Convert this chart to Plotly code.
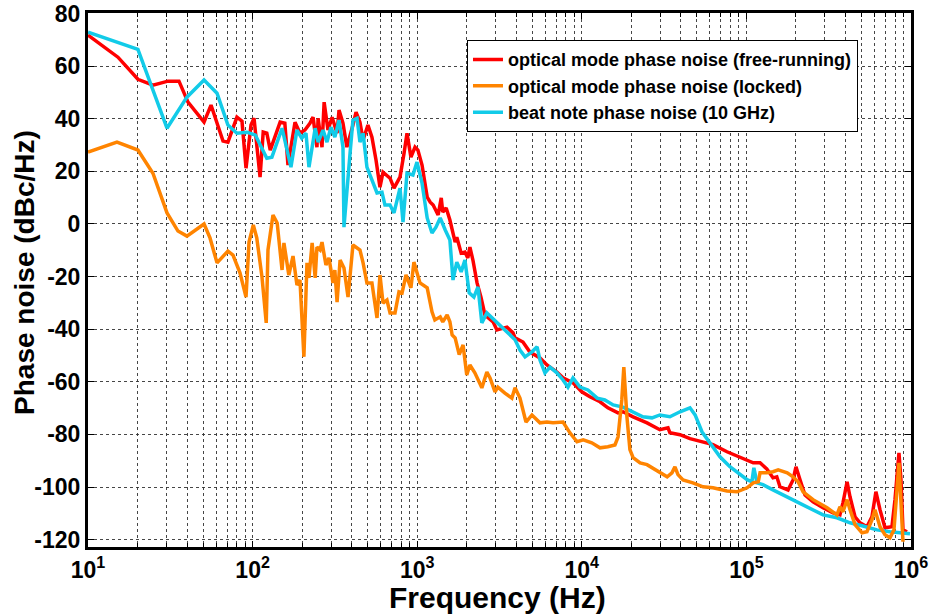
import plotly.graph_objects as go

# ---- data ----
free_f = [10, 15.2, 20.1, 24.8, 30.6, 35.7, 40.5, 50.7, 55.9, 66.1, 70.8, 80.3, 86.2, 91.2, 97.8,
          102, 111, 116, 122, 128, 147, 157, 164, 181, 194, 208, 223, 233, 246, 250, 264, 272,
          287, 304, 326, 335, 354, 374, 407, 425, 449, 469, 502, 531, 562, 594, 620, 684, 723,
          786, 832, 867, 916, 970, 1010, 1070, 1150, 1200, 1250, 1340, 1400, 1430, 1500, 1580,
          1700, 1740, 1850, 1950, 2030, 2090, 2180, 2310, 2440, 2580, 2890, 3050, 3510, 3820,
          3930, 4390, 4840, 5570, 6140, 7060, 7690, 8840, 10000, 11200, 12900, 14400, 16600,
          17800, 20500, 24900, 29800, 33400, 34300, 39500, 45400, 54500, 62700, 76200, 87700,
          101000, 110000, 121000, 133000, 145000, 153000, 160000, 179000, 192000, 200000,
          212000, 227000, 254000, 292000, 336000, 370000, 386000, 409000, 426000, 457000,
          490000, 540000, 579000, 612000, 648000, 695000, 766000, 799000, 845000, 869000,
          894000, 946000]
free_db = [71.8, 63.4, 55.0, 52.8, 54.3, 54.3, 46.3, 38.7, 45.2, 31.5, 31.1, 40.6, 39.1, 21.2, 37.6,
           40.2, 17.8, 34.9, 34.5, 28.1, 38.7, 38.3, 22.4, 38.7, 34.5, 35.7, 38.3, 40.6, 29.2, 40.2,
           29.2, 46.3, 35.7, 40.6, 34.5, 43.3, 38.3, 29.2, 37.6, 42.5, 38.7, 31.9, 37.6, 33.0, 24.3,
           14.0, 19.7, 17.4, 13.6, 17.8, 26.9, 34.5, 25.4, 29.2, 28.1, 22.4, 10.2, 8.3, 7.2, 3.4,
           9.9, 4.5, 6.1, 1.5, -6.9, -5.0, -11.1, -10.7, -12.9, -8.8, -13.7, -22.4, -27.8, -34.6,
           -37.2, -40.3, -39.2, -41.4, -43.3, -44.9, -48.7, -50.9, -53.6, -56.3, -58.5, -60.4,
           -63.8, -65.7, -67.6, -69.9, -71.8, -71.4, -73.3, -75.6, -78.2, -77.5, -79.4, -80.1,
           -81.6, -82.8, -83.9, -86.6, -88.1, -89.6, -90.8, -90.8, -93.1, -96.5, -96.1, -99.9,
           -101.1, -97.3, -92.3, -97.3, -103.0, -105.6, -107.9, -109.8, -110.6, -106.0, -98.0,
           -103.7, -111.3, -113.6, -115.1, -111.3, -101.8, -108.6, -115.5, -115.1, -104.9, -87.0,
           -97.3, -116.3, -117.0]

lock_f = [10, 15.0, 20.1, 24.8, 30.2, 35.2, 39.9, 50.7, 55.1, 60.8, 70.8, 76.0, 83.8, 91.2, 95.1,
          101, 106, 114, 121, 124, 133, 141, 151, 155, 166, 176, 186, 194, 205, 214, 220, 230,
          240, 246, 257, 264, 279, 291, 308, 316, 326, 340, 359, 380, 407, 449, 469, 495, 531,
          570, 594, 620, 655, 684, 733, 775, 809, 855, 916, 955, 1040, 1150, 1230, 1280, 1380,
          1430, 1520, 1580, 1630, 1700, 1800, 1900, 2000, 2090, 2240, 2470, 2650, 2770, 2970,
          3090, 3410, 3760, 3930, 4210, 4580, 4980, 5570, 6140, 6680, 7690, 8470, 9350, 10200,
          11500, 12900, 14400, 15900, 16600, 17500, 18000, 18800, 19600, 20500, 22600, 24900,
          26700, 29800, 33000, 35300, 36800, 38400, 41200, 47300, 54500, 62700, 76200, 87700,
          101000, 110000, 118000, 121000, 133000, 145000, 156000, 177000, 192000, 206000,
          221000, 254000, 309000, 355000, 370000, 386000, 409000, 426000, 457000, 504000,
          540000, 579000, 604000, 648000, 695000, 745000, 788000, 845000, 869000, 894000]
lock_db = [27.3, 31.1, 28.1, 19.3, 4.2, -2.7, -4.6, 0.0, -5.3, -14.8, -10.3, -11.8, -18.6, -27.8,
           -6.9, -0.4, -5.3, -20.1, -37.6, -9.9, 3.4, 0.4, -17.5, -7.2, -19.4, -12.2, -23.2, -21.3,
           -50.5, -14.8, -20.5, -7.2, -20.5, -8.8, -9.9, -6.9, -15.6, -12.9, -22.4, -17.5, -29.7,
           -13.7, -16.7, -27.8, -8.0, -9.9, -14.8, -22.4, -22.4, -35.7, -19.4, -30.1, -28.9,
           -33.8, -33.8, -25.8, -26.2, -19.4, -24.3, -14.5, -22.4, -24.3, -33.4, -36.5, -35.3,
           -37.2, -34.6, -37.2, -42.2, -43.3, -49.7, -46.0, -57.4, -53.6, -56.6, -62.3, -56.3,
           -58.5, -63.8, -62.0, -64.3, -66.2, -62.3, -66.2, -75.3, -72.6, -75.6, -75.3, -75.6,
           -75.3, -79.4, -82.8, -82.1, -83.2, -85.1, -84.7, -84.0, -81.0, -66.9, -54.4, -73.3,
           -85.8, -88.8, -90.8, -91.5, -92.7, -94.6, -96.1, -94.6, -92.3, -95.3, -97.3, -98.4,
           -99.9, -100.3, -101.5, -101.8, -100.3, -98.4, -98.0, -94.6, -94.6, -94.2, -93.5,
           -94.6, -96.1, -98.0, -101.8, -104.8, -107.9, -110.6, -107.5, -109.4, -104.8, -108.6,
           -114.3, -117.4, -117.0, -112.5, -108.6, -115.1, -118.1, -119.3, -116.3, -90.8, -106.0,
           -120.8]

beat_f = [10, 20.1, 30.2, 39.9, 50.7, 60.8, 70.8, 80.3, 92.5, 104, 122, 131, 151, 162, 171, 186,
          199, 211, 220, 240, 250, 268, 283, 299, 316, 335, 354, 359, 380, 391, 407, 431, 449,
          469, 495, 531, 570, 611, 637, 684, 723, 786, 820, 867, 942, 997, 1070, 1150, 1230,
          1300, 1380, 1480, 1580, 1650, 1740, 1850, 1950, 2070, 2210, 2340, 2470, 2650, 3050,
          3510, 3930, 4210, 4520, 4980, 5350, 5570, 5970, 6410, 7060, 7690, 8240, 8840, 9750,
          10900, 12400, 13800, 15500, 17800, 20500, 23500, 26700, 29800, 34300, 39500, 45400,
          48800, 53700, 60100, 69100, 79400, 91400, 101000, 108000, 111000, 116000, 126000,
          145000, 167000, 203000, 243000, 292000, 355000, 426000, 511000, 621000, 745000,
          986000]
beat_db = [72.9, 66.4, 36.4, 48.2, 54.7, 49.7, 37.6, 34.5, 34.9, 33.8, 25.0, 25.4, 36.4, 28.1,
           21.6, 35.7, 32.6, 34.5, 21.6, 36.4, 31.1, 35.7, 31.1, 36.8, 33.0, 39.5, 29.2, -1.2,
           20.5, 26.9, 39.5, 40.2, 31.1, 34.5, 21.6, 16.7, 11.8, 12.1, 7.2, 7.2, 4.2, 13.6, 0.7,
           19.3, 18.6, 23.5, 15.5, 2.3, -3.4, -1.2, 2.3, -2.3, -6.1, -21.3, -14.5, -18.2, -13.7,
           -26.2, -27.8, -23.9, -37.6, -33.8, -37.6, -41.4, -44.0, -47.9, -50.5, -48.6, -46.7,
           -51.7, -56.6, -54.4, -56.6, -59.3, -62.0, -58.5, -62.0, -63.1, -66.2, -66.9, -68.8,
           -69.6, -71.4, -73.3, -73.7, -72.6, -73.3, -71.4, -69.9, -72.6, -79.0, -83.2, -88.5,
           -92.3, -95.3, -97.2, -98.0, -92.7, -98.4, -99.1, -101.1, -103.0, -105.6, -107.9,
           -110.6, -111.7, -113.6, -114.8, -116.3, -117.0, -117.8]

names = ["optical mode phase noise (free-running)",
         "optical mode phase noise (locked)",
         "beat note phase noise (10 GHz)"]

x_title = "Frequency (Hz)"
y_title = "Phase noise (dBc/Hz)"
x_tickvals = [10, 100, 1000, 10000, 100000, 1000000]
x_ticktext = ["10<sup>1</sup>", "10<sup>2</sup>", "10<sup>3</sup>", "10<sup>4</sup>",
              "10<sup>5</sup>", "10<sup>6</sup>"]
x_minor = [m * 10 ** d for d in range(1, 6) for m in range(2, 10)]
y_tickvals = [80, 60, 40, 20, 0, -20, -40, -60, -80, -100, -120]
y_ticktext = ["80", "60", "40", "20", "0", "-20", "-40", "-60", "-80", "-100", "-120"]

RED = "#FF0000"
ORANGE = "#FF8400"
CYAN = "#12CBE8"

fig = go.Figure()
fig.add_trace(go.Scatter(x=free_f, y=free_db, mode="lines", name=names[0],
                         line=dict(color=RED, width=3.5), legendrank=1))
fig.add_trace(go.Scatter(x=beat_f, y=beat_db, mode="lines", name=names[2],
                         line=dict(color=CYAN, width=3.5), legendrank=3))
fig.add_trace(go.Scatter(x=lock_f, y=lock_db, mode="lines", name=names[1],
                         line=dict(color=ORANGE, width=3.5), legendrank=2))

FONT = "Liberation Sans, Arial, sans-serif"
gridc = "rgba(50,50,50,0.9)"

fig.update_layout(
    template="none",
    width=933, height=616, autosize=False,
    margin=dict(l=88, r=22, t=13, b=69, autoexpand=False),
    paper_bgcolor="white", plot_bgcolor="white",
    font=dict(family=FONT, color="black"),
    showlegend=True,
    legend=dict(x=0.4605, y=0.949, xanchor="left", yanchor="top",
                bgcolor="white", bordercolor="black", borderwidth=1,
                font=dict(family=FONT, size=18, weight="bold", color="black"),
                tracegroupgap=0, itemwidth=30),
    xaxis=dict(type="log", range=[1, 6], automargin=False,
               tickmode="array", tickvals=x_tickvals, ticktext=x_ticktext,
               tickfont=dict(family=FONT, size=23, weight="bold"),
               ticks="inside", ticklen=6, tickcolor="black", tickwidth=1,
               showline=True, linecolor="black", linewidth=3, mirror="ticks",
               showgrid=True, gridcolor=gridc, griddash="dot", gridwidth=1,
               minor=dict(tickmode="array", tickvals=x_minor, showgrid=True,
                          gridcolor=gridc, griddash="dot", gridwidth=1,
                          ticks="inside", ticklen=4, tickcolor="black"),
               zeroline=False),
    yaxis=dict(range=[-122.8, 80.2], automargin=False,
               tickmode="array", tickvals=y_tickvals, ticktext=y_ticktext,
               tickfont=dict(family=FONT, size=23, weight="bold"),
               ticks="inside", ticklen=6, tickcolor="black", tickwidth=1,
               showline=True, linecolor="black", linewidth=3, mirror="ticks",
               showgrid=True, gridcolor=gridc, griddash="dot", gridwidth=1,
               zeroline=False),
    annotations=[
        dict(text=x_title, xref="paper", yref="paper", x=0.4976, y=-0.0955,
             xanchor="center", yanchor="middle", showarrow=False,
             font=dict(family=FONT, size=30, weight="bold", color="black")),
        dict(text=y_title, xref="paper", yref="paper", x=-0.0766, y=0.515,
             xanchor="center", yanchor="middle", showarrow=False, textangle=-90,
             font=dict(family=FONT, size=28, weight="bold", color="black")),
    ],
)

fig.write_html("out.html", config={"displayModeBar": False},
               post_script="document.body.style.margin='0px';")
